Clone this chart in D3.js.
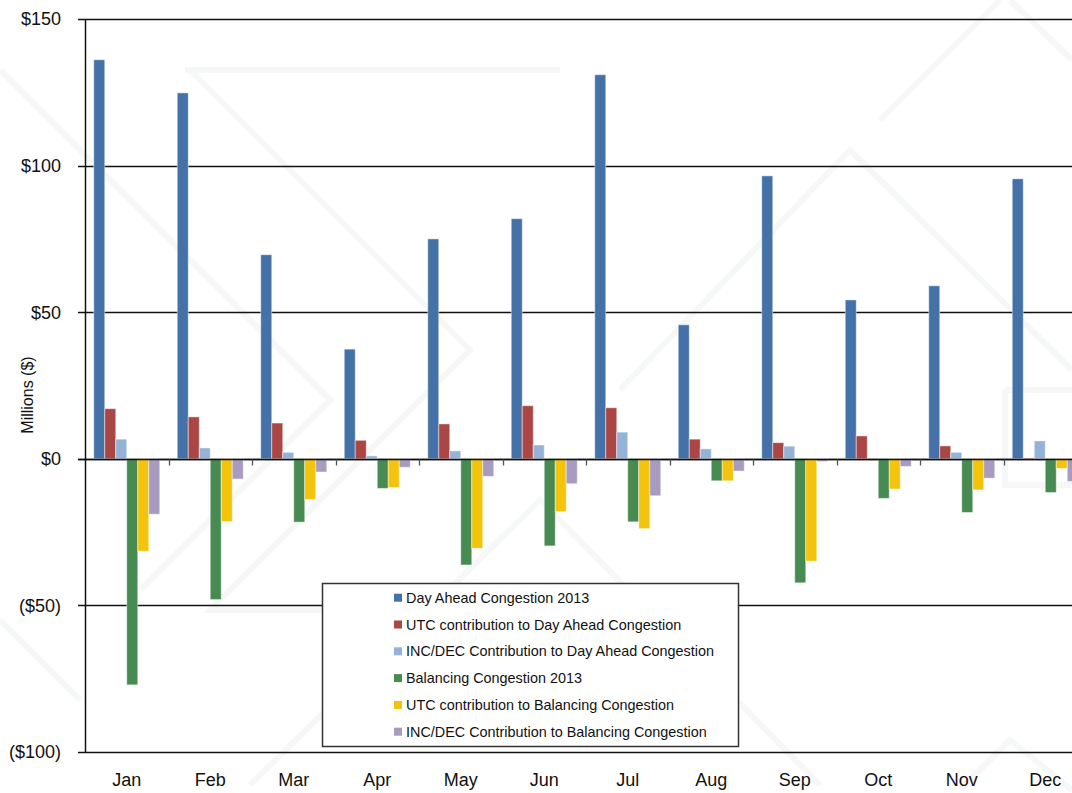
<!DOCTYPE html>
<html>
<head>
<meta charset="utf-8">
<script src="https://cdn.jsdelivr.net/npm/d3@7"></script>
<style>
  html, body { margin: 0; padding: 0; background: #fff; }
  svg { display: block; font-family: "Liberation Sans", Arial, sans-serif; }
</style>
</head>
<body>
<div id="wrapper"></div>
<script>
const months = ["Jan", "Feb", "Mar", "Apr", "May", "Jun", "Jul", "Aug", "Sep", "Oct", "Nov", "Dec"]
const seriesNames = [
    "Day Ahead Congestion 2013",
    "UTC contribution to Day Ahead Congestion",
    "INC/DEC Contribution to Day Ahead Congestion",
    "Balancing Congestion 2013",
    "UTC contribution to Balancing Congestion",
    "INC/DEC Contribution to Balancing Congestion",
]
const dayAhead      = [136.1, 124.8, 69.6, 37.4, 75.0, 81.9, 131.0, 45.7, 96.5, 54.2, 59.0, 95.5]
const utcDayAhead   = [17.1, 14.3, 12.2, 6.3, 11.9, 18.1, 17.4, 6.7, 5.5, 7.8, 4.4, 0.3]
const incDayAhead   = [6.7, 3.7, 2.2, 1.0, 2.7, 4.7, 9.1, 3.4, 4.3, 0, 2.2, 6.1]
const balancing     = [-77.1, -48.0, -21.6, -10.1, -36.2, -29.7, -21.5, -7.5, -42.3, -13.5, -18.3, -11.5]
const utcBalancing  = [-31.5, -21.4, -13.9, -9.8, -30.5, -18.0, -23.8, -7.5, -34.9, -10.3, -10.6, -3.3]
const incBalancing  = [-18.9, -6.9, -4.5, -2.9, -6.0, -8.5, -12.6, -4.2, -0.9, -2.6, -6.6, -7.7]
const yTicks = [150, 100, 50, 0, -50, -100]

const seriesValues = [dayAhead, utcDayAhead, incDayAhead, balancing, utcBalancing, incBalancing]
const colors = ["#4472a8", "#aa4644", "#95b3d9", "#478b53", "#f3c30e", "#a89bbf"]

const dimensions = {
    width: 1072,
    height: 793,
    margin: { top: 19, left: 85, bottom: 41 },
}
const bandWidth = 83.5

const svg = d3.select("#wrapper")
    .append("svg")
    .attr("width", dimensions.width)
    .attr("height", dimensions.height)

// faint watermark shapes in the background
const wm = svg.append("g")
    .attr("fill", "none")
    .attr("stroke", "#f6f7f7")
    .attr("stroke-width", 6)
const wmPaths = [
    "M0,70 L330,400 L140,590",
    "M185,70 L560,70",
    "M190,70 L470,350 L210,610 L660,610",
    "M250,785 L540,500 L820,785",
    "M620,390 L850,150 L1072,370",
    "M880,120 L1000,0",
    "M1010,0 L1072,60",
    "M960,790 L1010,740 L1072,790",
    "M1005,390 L1072,390",
    "M1005,390 L1005,485 L1072,485",
    "M0,620 L80,700",
]
wm.selectAll("path")
    .data(wmPaths)
    .join("path")
    .attr("d", d => d)

const yScale = d3.scaleLinear()
    .domain([-100, 150])
    .range([dimensions.height - dimensions.margin.bottom, dimensions.margin.top])

const xScale = d3.scaleBand()
    .domain(months)
    .range([dimensions.margin.left, dimensions.margin.left + bandWidth * months.length])
    .padding(0)

const innerScale = d3.scaleBand()
    .domain(d3.range(seriesNames.length))
    .range([8.75, bandWidth - 8.75])
    .padding(0)

// horizontal grid lines
svg.append("g")
    .selectAll("line")
    .data(yTicks)
    .join("line")
    .attr("x1", dimensions.margin.left - 7)
    .attr("x2", dimensions.width)
    .attr("y1", d => Math.round(yScale(d)) + 0.5)
    .attr("y2", d => Math.round(yScale(d)) + 0.5)
    .attr("stroke", "#111")
    .attr("stroke-width", 1.3)

// y tick labels
svg.append("g")
    .selectAll("text")
    .data(yTicks)
    .join("text")
    .attr("x", 61)
    .attr("y", d => yScale(d))
    .attr("dy", "0.35em")
    .attr("text-anchor", "end")
    .attr("font-size", 18)
    .attr("fill", "#111")
    .text(d => d < 0 ? `($${-d})` : `$${d}`)

// bars
const groups = svg.append("g")
    .selectAll("g")
    .data(months)
    .join("g")
    .attr("transform", d => `translate(${xScale(d)},0)`)

groups.selectAll("rect")
    .data((m, i) => seriesValues.map((s, k) => ({ k, v: s[i] })))
    .join("rect")
    .attr("x", d => innerScale(d.k))
    .attr("width", innerScale.bandwidth())
    .attr("y", d => yScale(Math.max(0, d.v)))
    .attr("height", d => Math.abs(yScale(d.v) - yScale(0)))
    .attr("fill", d => colors[d.k])
    .attr("stroke", "#fff")
    .attr("stroke-opacity", 0.45)
    .attr("stroke-width", 1)

// zero line and x ticks
const zeroY = Math.round(yScale(0)) + 0.5
svg.append("line")
    .attr("x1", dimensions.margin.left - 7)
    .attr("x2", dimensions.width)
    .attr("y1", zeroY)
    .attr("y2", zeroY)
    .attr("stroke", "#111")
    .attr("stroke-width", 1.5)

svg.append("g")
    .selectAll("line")
    .data(months.slice(1))
    .join("line")
    .attr("x1", d => Math.round(xScale(d)) + 0.5)
    .attr("x2", d => Math.round(xScale(d)) + 0.5)
    .attr("y1", zeroY)
    .attr("y2", zeroY + 6)
    .attr("stroke", "#555")
    .attr("stroke-width", 1.3)

// y axis line
svg.append("line")
    .attr("x1", dimensions.margin.left + 0.5)
    .attr("x2", dimensions.margin.left + 0.5)
    .attr("y1", yScale(150))
    .attr("y2", yScale(-100) + 1)
    .attr("stroke", "#111")
    .attr("stroke-width", 1.5)

// month labels
svg.append("g")
    .selectAll("text")
    .data(months)
    .join("text")
    .attr("x", d => xScale(d) + bandWidth / 2)
    .attr("y", 786)
    .attr("text-anchor", "middle")
    .attr("font-size", 18)
    .attr("fill", "#111")
    .text(d => d)

// y axis title
svg.append("text")
    .attr("transform", "translate(33,395) rotate(-90)")
    .attr("text-anchor", "middle")
    .attr("font-size", 16)
    .attr("fill", "#111")
    .text("Millions ($)")

// legend
const legend = svg.append("g")
legend.append("rect")
    .attr("x", 322.5)
    .attr("y", 583.5)
    .attr("width", 416)
    .attr("height", 163)
    .attr("fill", "#fff")
    .attr("stroke", "#333")
    .attr("stroke-width", 1.5)

const items = legend.selectAll("g.item")
    .data(seriesNames)
    .join("g")
    .attr("class", "item")
    .attr("transform", (d, i) => `translate(394,${597.7 + i * 26.8})`)

items.append("rect")
    .attr("x", 0)
    .attr("y", -4)
    .attr("width", 8)
    .attr("height", 8)
    .attr("fill", (d, i) => colors[i])

items.append("text")
    .attr("x", 12)
    .attr("dy", "0.35em")
    .attr("font-size", 14.4)
    .attr("fill", "#111")
    .text(d => d)
</script>
</body>
</html>
